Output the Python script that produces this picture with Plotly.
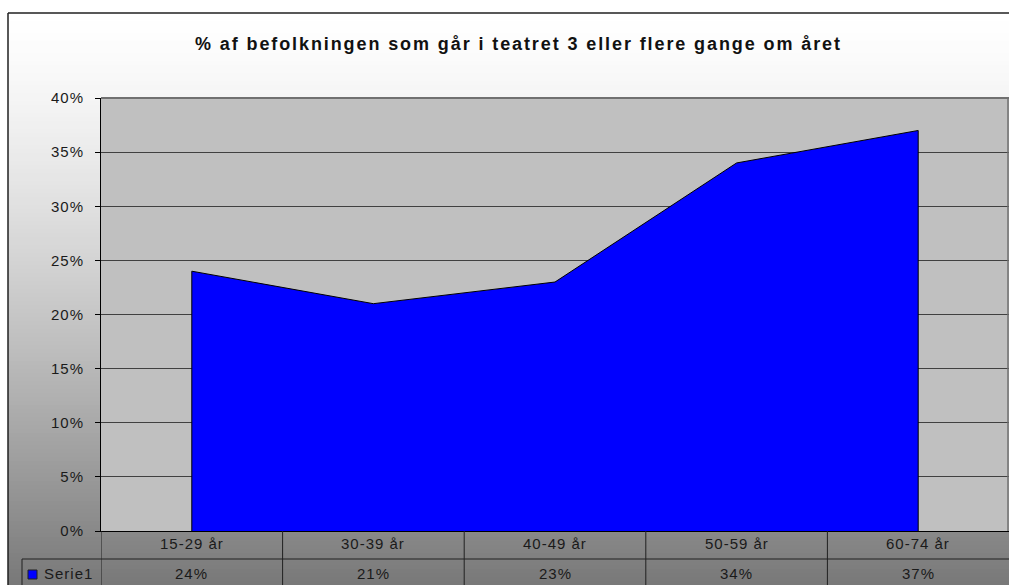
import plotly.graph_objects as go

categories = ["15-29 år", "30-39 år", "40-49 år", "50-59 år", "60-74 år"]
values = [24, 21, 23, 34, 37]
y_ticks = [0, 5, 10, 15, 20, 25, 30, 35, 40]
series_name = "Serie1"
title = "% af befolkningen som går i teatret 3 eller flere gange om året"

W, H = 1009, 585
FONT = "Arial, Liberation Sans, sans-serif"


def px(x):
    return x / W


def py(y):
    return 1 - y / H


def spaced(t, ls):
    return f'<span style="letter-spacing:{ls}px">{t}</span>'


n = len(categories)
xs = list(range(n))

fig = go.Figure()
# area polygon built from the data (closed down to the baseline)
fig.add_trace(go.Scatter(
    x=[xs[0]] + xs + [xs[-1]],
    y=[0] + values + [0],
    mode="lines",
    fill="toself",
    fillcolor="#0000FF",
    line=dict(color="black", width=1),
    hoverinfo="skip",
    showlegend=False,
))

shapes = []
# gradient background (chart area)
top, bottom = 13, 585
nb = 143
for i in range(nb):
    y0 = top + (bottom - top) * i / nb
    y1 = top + (bottom - top) * (i + 1) / nb + 1
    t = (i + 0.5) / nb
    g = int(round(255 - 135 * t ** 1.35))
    shapes.append(dict(type="rect", xref="paper", yref="paper", layer="below",
                       x0=px(8), x1=1, y0=max(0, py(y1)), y1=py(y0),
                       fillcolor=f"rgb({g},{g},{g})", line=dict(width=0)))
# plot area background
shapes.append(dict(type="rect", xref="paper", yref="paper", layer="below",
                   x0=px(101), x1=1, y0=py(531), y1=py(98),
                   fillcolor="#C0C0C0", line=dict(width=0)))
# plot area border (top and right)
shapes.append(dict(type="line", xref="paper", yref="paper", layer="above",
                   x0=px(101), x1=1, y0=py(98), y1=py(98),
                   line=dict(color="#707070", width=2)))
shapes.append(dict(type="line", xref="paper", yref="paper", layer="above",
                   x0=px(1008), x1=px(1008), y0=py(531), y1=py(98),
                   line=dict(color="#707070", width=1.5)))
# outer chart border
shapes.append(dict(type="line", xref="paper", yref="paper", layer="above",
                   x0=px(8), x1=1, y0=py(13), y1=py(13),
                   line=dict(color="#202020", width=1.5)))
shapes.append(dict(type="line", xref="paper", yref="paper", layer="above",
                   x0=px(8), x1=px(8), y0=0, y1=py(13),
                   line=dict(color="#202020", width=1.5)))
# data table lines
for k in range(n):
    xb = k - 0.5
    shapes.append(dict(type="line", xref="x", yref="paper", layer="above",
                       x0=xb, x1=xb, y0=0, y1=py(531),
                       line=dict(color="#202020", width=1)))
shapes.append(dict(type="line", xref="paper", yref="paper", layer="above",
                   x0=px(22), x1=1, y0=py(559), y1=py(559),
                   line=dict(color="#202020", width=1)))
shapes.append(dict(type="line", xref="paper", yref="paper", layer="above",
                   x0=px(22), x1=px(22), y0=0, y1=py(559),
                   line=dict(color="#202020", width=1)))
# legend key
shapes.append(dict(type="rect", xref="paper", yref="paper", layer="above",
                   x0=px(28), x1=px(37), y0=py(579), y1=py(570),
                   fillcolor="#0000FF", line=dict(color="#202020", width=1)))

TXT = dict(family=FONT, size=15, color="#1a1a1a")
annotations = []
for i, (c, v) in enumerate(zip(categories, values)):
    annotations.append(dict(x=i, y=py(543), xref="x", yref="paper", text=spaced(c, 1),
                            showarrow=False, xanchor="center", yanchor="middle", font=TXT))
    annotations.append(dict(x=i, y=py(573), xref="x", yref="paper", text=spaced(f"{v}%", 1),
                            showarrow=False, xanchor="center", yanchor="middle", font=TXT))
annotations.append(dict(x=px(42), y=py(573), xref="paper", yref="paper",
                        text=spaced(series_name, 1), showarrow=False,
                        xanchor="left", yanchor="middle", font=TXT))
annotations.append(dict(x=px(518), y=py(44), xref="paper", yref="paper",
                        text=f"<b>{spaced(title, 1.9)}</b>", showarrow=False,
                        xanchor="center", yanchor="middle",
                        font=dict(family=FONT, size=18, color="#111111")))

fig.update_layout(
    width=W, height=H,
    margin=dict(l=0, r=0, t=0, b=0, pad=0, autoexpand=False),
    paper_bgcolor="white",
    plot_bgcolor="rgba(0,0,0,0)",
    showlegend=False,
    shapes=shapes,
    annotations=annotations,
    xaxis=dict(domain=[px(101), 1], range=[-0.5, n - 0.5], showticklabels=False,
               showgrid=False, zeroline=False, showline=True, linecolor="black",
               linewidth=1, ticks="", automargin=False),
    yaxis=dict(domain=[py(531), py(98)], range=[0, 40], tickvals=y_ticks,
               ticktext=[spaced(f"{t}%", 1) for t in y_ticks], ticks="outside", ticklen=5,
               tickcolor="black", showline=True, linecolor="black", linewidth=1,
               showgrid=True, gridcolor="#404040", gridwidth=1, zeroline=False,
               ticklabelstandoff=8, automargin=False,
               tickfont=TXT),
)

post = "document.body.style.margin='0';document.body.style.overflow='hidden';"
fig.write_html("out.html", post_script=post, config={"displayModeBar": False})
